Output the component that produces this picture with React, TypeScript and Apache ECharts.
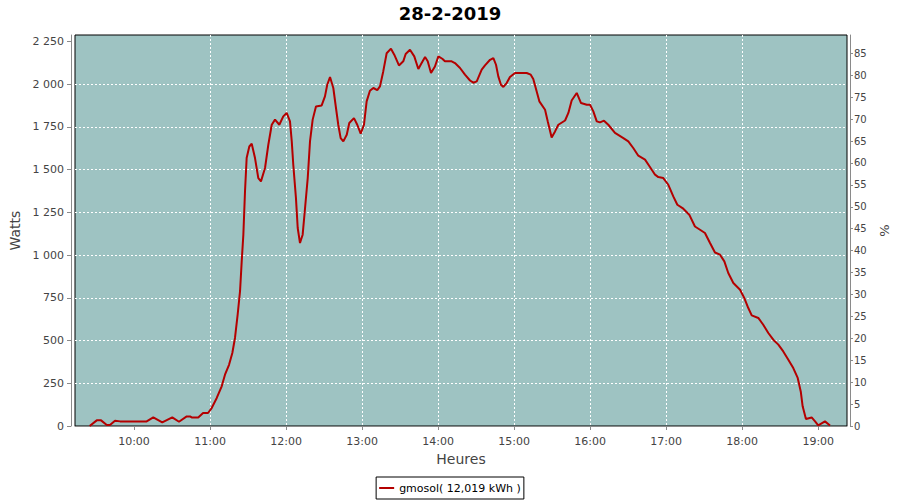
import React, { useEffect, useRef } from "react";
import * as echarts from "echarts";

const chartTitle = "28-2-2019";
const seriesName = "gmosol( 12,019 kWh )";
const xAxisName = "Heures";
const leftAxisName = "Watts";
const rightAxisName = "%";

const times = [
  "9:25:00", "9:30:36", "9:34:00", "9:38:30", "9:41:00", "9:45:00", "9:49:00", "10:10:00",
  "10:15:12", "10:22:18", "10:30:12", "10:35:30", "10:41:36", "10:44:12", "10:45:30", "10:50:42",
  "10:54:30", "10:58:24", "11:01:18", "11:05:18", "11:09:12", "11:11:48", "11:15:00", "11:17:36",
  "11:19:42", "11:21:48", "11:23:42", "11:25:00", "11:26:18", "11:27:36", "11:28:54", "11:31:00",
  "11:32:54", "11:35:30", "11:38:06", "11:40:12", "11:43:24", "11:46:00", "11:48:42", "11:51:18",
  "11:54:42", "11:57:48", "12:00:30", "12:03:06", "12:04:30", "12:05:42", "12:07:48", "12:09:12",
  "12:11:00", "12:13:06", "12:15:00", "12:17:06", "12:18:54", "12:21:00", "12:23:36", "12:28:06",
  "12:30:42", "12:32:30", "12:34:42", "12:37:18", "12:39:24", "12:41:12", "12:43:06", "12:45:12",
  "12:47:54", "12:49:54", "12:53:36", "12:56:12", "12:58:54", "13:01:30", "13:03:36", "13:06:12",
  "13:08:54", "13:12:00", "13:14:06", "13:16:42", "13:19:24", "13:22:48", "13:25:24", "13:29:06",
  "13:32:30", "13:34:24", "13:37:48", "13:41:12", "13:44:24", "13:47:00", "13:49:42", "13:51:48",
  "13:54:24", "13:57:30", "14:00:12", "14:03:18", "14:05:24", "14:10:42", "14:13:18", "14:17:18",
  "14:21:12", "14:25:12", "14:27:48", "14:30:30", "14:34:24", "14:37:00", "14:41:00", "14:43:36",
  "14:45:42", "14:47:30", "14:49:36", "14:51:30", "14:54:06", "14:56:42", "15:00:42", "15:09:54",
  "15:13:06", "15:15:06", "15:17:48", "15:19:54", "15:24:24", "15:26:30", "15:29:36", "15:32:18",
  "15:34:54", "15:40:12", "15:42:48", "15:45:24", "15:49:24", "15:52:48", "15:57:18", "15:59:54",
  "16:02:30", "16:05:12", "16:07:48", "16:10:54", "16:14:18", "16:19:36", "16:26:12", "16:30:06",
  "16:34:00", "16:38:00", "16:43:18", "16:47:12", "16:51:12", "16:53:48", "16:57:42", "17:01:42",
  "17:05:36", "17:08:48", "17:13:30", "17:18:12", "17:22:42", "17:26:42", "17:30:36", "17:34:36",
  "17:38:30", "17:42:30", "17:45:54", "17:49:00", "17:53:00", "17:58:18", "18:01:36", "18:04:48",
  "18:07:30", "18:12:42", "18:16:36", "18:20:36", "18:24:30", "18:28:30", "18:32:24", "18:36:24",
  "18:40:18", "18:43:48", "18:46:12", "18:47:42", "18:50:18", "18:54:48", "18:57:30", "19:00:00",
  "19:05:18", "19:09:18",
];

const watts = [
  0, 33, 33, 6, 6, 31, 27, 27,
  50, 21, 50, 25, 56, 56, 50, 50,
  76, 76, 105, 164, 232, 300, 358, 427,
  515, 651, 790, 963, 1119, 1372, 1567, 1635,
  1651, 1567, 1450, 1431, 1509, 1645, 1762, 1792,
  1762, 1811, 1831, 1782, 1665, 1528, 1334, 1158,
  1070, 1119, 1275, 1450, 1665, 1792, 1869, 1875,
  1928, 1996, 2041, 1977, 1860, 1762, 1684, 1665,
  1704, 1772, 1801, 1762, 1710, 1762, 1899, 1961,
  1977, 1965, 1986, 2074, 2180, 2207, 2172, 2109,
  2133, 2176, 2201, 2162, 2088, 2123, 2158, 2133,
  2065, 2103, 2162, 2148, 2133, 2133, 2123, 2094,
  2055, 2021, 2008, 2016, 2084, 2109, 2142, 2152,
  2113, 2045, 1996, 1983, 2006, 2041, 2065, 2065,
  2055, 2030, 1957, 1899, 1850, 1782, 1688, 1723,
  1762, 1787, 1831, 1904, 1948, 1889, 1879, 1879,
  1840, 1782, 1776, 1786, 1762, 1714, 1684, 1665,
  1626, 1581, 1558, 1515, 1470, 1456, 1450, 1411,
  1343, 1294, 1271, 1236, 1167, 1148, 1129, 1070,
  1015, 1002, 963, 895, 836, 797, 749, 690,
  647, 632, 592, 544, 505, 476, 436, 388,
  339, 281, 202, 115, 41, 50, 27, 4,
  27, 3,
];

const hourTicks = ["10:00", "11:00", "12:00", "13:00", "14:00", "15:00", "16:00", "17:00", "18:00", "19:00"];
const wattTicks = [0, 250, 500, 750, 1000, 1250, 1500, 1750, 2000, 2250];
const percentTicks = [0, 5, 10, 15, 20, 25, 30, 35, 40, 45, 50, 55, 60, 65, 70, 75, 80, 85];
const xStart = "9:13:26";
const xEnd = "19:22:42";
const wattMax = 2287;
const percentMax = 89.2;

const toMinutes = (s: string) => {
  const p = s.split(":").map(Number);
  return p[0] * 60 + p[1] + (p[2] || 0) / 60;
};
const fmtHour = (v: number) => {
  const t = Math.round(v);
  const h = Math.floor(t / 60);
  const m = t % 60;
  return String(h).padStart(2, "0") + ":" + String(m).padStart(2, "0");
};
const fmtThousands = (v: number) => String(v).replace(/\B(?=(\d{3})+(?!\d))/g, " ");

const GREY = "#8a8a8a";
const LABEL = "#444444";
const FONT = "DejaVu Sans";
const LINE_COLOR = "#b40000";

export default function App() {
  const ref = useRef<HTMLDivElement>(null);
  useEffect(() => {
    document.body.style.margin = "0";
    if (!ref.current) return;
    const chart = echarts.init(ref.current, undefined, { renderer: "svg" });
    const data = times.map((t, i) => [toMinutes(t), watts[i]]);
    const hourVals = hourTicks.map(toMinutes);
    chart.setOption({
      animation: false,
      backgroundColor: "#ffffff",
      textStyle: { fontFamily: FONT },
      title: {
        text: chartTitle,
        left: "center",
        top: 0,
        padding: [4, 5, 5, 5],
        textStyle: { fontSize: 18, fontWeight: "bold", color: "#000", fontFamily: FONT },
      },
      legend: {
        top: 477,
        left: "center",
        borderColor: "#000",
        borderWidth: 1,
        borderRadius: 0,
        padding: [4, 3, 4, 3],
        itemWidth: 15,
        itemHeight: 2,
        icon: "rect",
        textStyle: { fontSize: 11, color: "#000", fontFamily: FONT, lineHeight: 14 },
        data: [{ name: seriesName, icon: "rect", itemStyle: { color: LINE_COLOR } }],
      },
      grid: {
        left: 75,
        right: 53,
        top: 35,
        bottom: 74,
        show: true,
        backgroundColor: "#9ec3c2",
        borderColor: "#000",
        borderWidth: 1,
        containLabel: false,
        outerBoundsMode: "none",
      },
      xAxis: {
        type: "value",
        min: toMinutes(xStart),
        max: toMinutes(xEnd),
        name: xAxisName,
        nameLocation: "middle",
        nameGap: 22,
        nameTextStyle: { fontSize: 14, color: LABEL, fontFamily: FONT },
        offset: 4,
        axisLine: { show: true, lineStyle: { color: GREY, width: 1 } },
        axisTick: { show: true, length: 4, customValues: hourVals, lineStyle: { color: GREY } },
        axisLabel: {
          customValues: hourVals,
          formatter: (v: number) => fmtHour(v),
          margin: 6,
          fontSize: 11,
          color: LABEL,
          fontFamily: FONT,
        },
        splitLine: {
          show: true,
          showMinLine: false,
          showMaxLine: false,
          lineStyle: { color: "#ffffff", type: [2, 2], width: 1 },
        },
      },
      yAxis: [
        {
          type: "value",
          position: "left",
          min: 0,
          max: wattMax,
          name: leftAxisName,
          nameLocation: "middle",
          nameGap: 42,
          nameTextStyle: { fontSize: 14, color: LABEL, fontFamily: FONT },
          offset: 4,
          axisLine: { show: true, lineStyle: { color: GREY, width: 1 } },
          axisTick: { show: true, length: 4, customValues: wattTicks, lineStyle: { color: GREY } },
          axisLabel: {
            customValues: wattTicks,
            formatter: (v: number) => fmtThousands(v),
            margin: 7,
            fontSize: 11,
            color: LABEL,
            fontFamily: FONT,
          },
          splitLine: {
            show: true,
            showMinLine: false,
            showMaxLine: false,
            lineStyle: { color: "#ffffff", type: [2, 2], width: 1 },
          },
        },
        {
          type: "value",
          position: "right",
          min: 0,
          max: percentMax,
          name: rightAxisName,
          nameLocation: "middle",
          nameGap: 21,
          nameTextStyle: { fontSize: 13, color: LABEL, fontFamily: FONT },
          offset: 3,
          axisLine: { show: true, lineStyle: { color: GREY, width: 1 } },
          axisTick: { show: true, length: 3, customValues: percentTicks, lineStyle: { color: GREY } },
          axisLabel: {
            customValues: percentTicks,
            margin: 4,
            fontSize: 10,
            color: LABEL,
            fontFamily: FONT,
          },
          splitLine: { show: false },
        },
      ],
      series: [
        {
          type: "line",
          name: seriesName,
          data,
          yAxisIndex: 0,
          showSymbol: false,
          symbol: "none",
          clip: true,
          lineStyle: { color: LINE_COLOR, width: 2 },
          itemStyle: { color: LINE_COLOR },
        },
      ],
    });
    return () => chart.dispose();
  }, []);
  return <div ref={ref} style={{ width: 900, height: 500 }} />;
}
